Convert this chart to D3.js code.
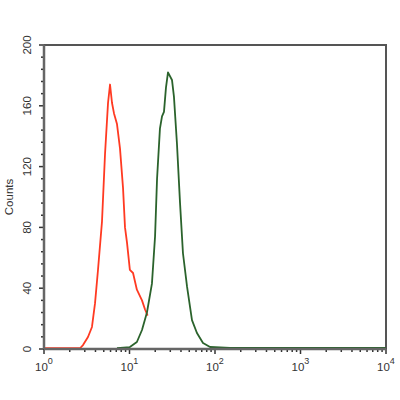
<!DOCTYPE html>
<meta charset="utf-8">
<style>
body { margin: 0; background: #fff; }
.lbl { font: 11.5px "Liberation Sans", Arial, sans-serif; fill: #333; }
</style>
<body>
<script src="https://d3js.org/d3.v7.min.js"></script>
<script>

// histogram traces (fluorescence intensity, counts)
var redX = [1, 2.64, 2.86, 3.27, 3.64, 3.95, 4.28, 4.77, 5.17, 5.61, 5.92, 6.24, 6.59, 7.14, 7.74, 8.40, 8.86, 9.35, 10.1, 11.0, 12.2, 14.0, 15.2, 16.3];
var redY = [0.5, 0.5, 2.6, 7.9, 14.5, 30, 52, 84, 128, 162, 174, 162, 155, 148, 132, 106, 80, 70, 52, 50, 39, 32, 26, 22];
var greenX = [7.14, 10.1, 12.2, 14.0, 16.0, 18.3, 19.9, 21.0, 22.7, 24.0, 25.3, 26.7, 28.2, 31.4, 33.1, 35.9, 39.0, 42.2, 47.1, 53.8, 61.5, 72.4, 87.5, 150, 10000];
var greenY = [0.5, 1.3, 4.6, 12.5, 24, 43, 74, 112, 145, 153, 156, 172, 182, 177, 166, 135, 96, 63, 41, 19, 10.5, 4, 1.3, 0.7, 0.7];
var yTicks = [0, 40, 80, 120, 160, 200];
var xTicks = [1, 10, 100, 1000, 10000];

var margin = {top: 45, right: 14, bottom: 51, left: 44},
    width = 400 - margin.left - margin.right,
    height = 400 - margin.top - margin.bottom;

var x = d3.scaleLog().domain([1, 10000]).range([0, width]);
var y = d3.scaleLinear().domain([0, 200]).range([height, 0]);

var svg = d3.select("body").append("svg")
    .attr("width", 400)
    .attr("height", 400)
  .append("g")
    .attr("transform", "translate(" + margin.left + "," + margin.top + ")");

// frame (top and right)
svg.append("path")
    .attr("d", "M0,0H" + width + "V" + height)
    .attr("fill", "none")
    .attr("stroke", "#555")
    .attr("stroke-width", 2);

// curves
var line = d3.line()
    .x(function(d) { return x(d[0]); })
    .y(function(d) { return y(d[1]); });

svg.append("path")
    .datum(d3.zip(redX, redY))
    .attr("fill", "none")
    .attr("stroke", "#ff3a22")
    .attr("stroke-width", 1.8)
    .attr("stroke-linejoin", "round")
    .attr("d", line);

svg.append("path")
    .datum(d3.zip(greenX, greenY))
    .attr("fill", "none")
    .attr("stroke", "#2b632c")
    .attr("stroke-width", 1.8)
    .attr("stroke-linejoin", "round")
    .attr("d", line);

// y axis: minor ticks every 8, labels every 40
var yMinor = d3.range(0, 201, 8);
svg.selectAll(".ym").data(yMinor).enter().append("line")
    .attr("x1", function(d) { return d % 40 === 0 ? -5 : -3; })
    .attr("x2", 0)
    .attr("y1", function(d) { return y(d); })
    .attr("y2", function(d) { return y(d); })
    .attr("stroke", "#333")
    .attr("stroke-width", 1.5);

svg.append("line")
    .attr("x1", 0).attr("x2", 0)
    .attr("y1", 0).attr("y2", height + 1)
    .attr("stroke", "#666").attr("stroke-width", 2.5);

svg.selectAll(".yl").data(yTicks).enter().append("text")
    .attr("class", "lbl")
    .attr("text-anchor", "middle")
    .attr("transform", function(d) { return "translate(-13," + y(d) + ") rotate(-90)"; })
    .text(function(d) { return d; });

svg.append("text")
    .attr("class", "lbl")
    .attr("text-anchor", "middle")
    .attr("transform", "translate(-31," + (height / 2) + ") rotate(-90)")
    .text("Counts");

// x axis: log minor ticks
var xMinor = [];
xTicks.forEach(function(t) {
  if (t < 10000) for (var k = 2; k <= 9; k++) xMinor.push(t * k);
});
svg.selectAll(".xm").data(xMinor).enter().append("line")
    .attr("x1", function(d) { return x(d); })
    .attr("x2", function(d) { return x(d); })
    .attr("y1", height)
    .attr("y2", height + 3)
    .attr("stroke", "#333")
    .attr("stroke-width", 1.5);

svg.selectAll(".xM").data(xTicks).enter().append("line")
    .attr("x1", function(d) { return x(d); })
    .attr("x2", function(d) { return x(d); })
    .attr("y1", height)
    .attr("y2", height + 5)
    .attr("stroke", "#333")
    .attr("stroke-width", 1.5);

svg.append("line")
    .attr("x1", 0).attr("x2", width)
    .attr("y1", height).attr("y2", height)
    .attr("stroke", "#666").attr("stroke-width", 2.5);

var xl = svg.selectAll(".xl").data(xTicks).enter().append("text")
    .attr("class", "lbl")
    .attr("x", function(d) { return x(d) - 9; })
    .attr("y", height + 22);
xl.append("tspan").text("10");
xl.append("tspan")
    .attr("dy", -7)
    .style("font-size", "9px")
    .text(function(d) { return Math.round(Math.log10(d)); });

</script>
</body>
